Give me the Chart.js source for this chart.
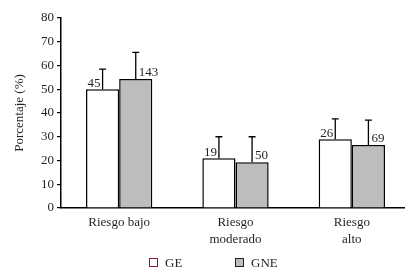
<!DOCTYPE html>
<html>
<head>
<meta charset="utf-8">
<script src="https://cdn.jsdelivr.net/npm/chart.js@4"></script>
<style>
  html, body { margin: 0; padding: 0; background: #fff; overflow: hidden; width: 405px; height: 280px; }
  #wrap { position: absolute; left: 0; top: 0; width: 410px; height: 280px; }
  .leg { position: absolute; top: 255px; font: 13px 'Liberation Serif', 'DejaVu Serif', serif; color: #231f20; line-height: 15px; }
  .leg i { display: inline-block; width: 7px; height: 7px; margin-right: 7px; vertical-align: 0px; }
</style>
</head>
<body>
<div id="wrap"><canvas id="chart"></canvas></div>
<div class="leg" style="left:149px"><i style="border:1.2px solid #8b1a4a;background:#fff"></i>GE</div>
<div class="leg" style="left:235px"><i style="border:1.2px solid #222;background:#bdbdbd"></i>GNE</div>
<script>
// categories and series
var categories = [['Riesgo bajo'], ['Riesgo', 'moderado'], ['Riesgo', 'alto']];
var geValues = [50, 21, 29];
var gneValues = [54.3, 19.3, 26.5];
// top of the error bars (mean + sd)
var geErrTop = [58.5, 30, 37.5];
var gneErrTop = [65.5, 30, 37];
// n shown above each bar
var geCounts = [45, 19, 26];
var gneCounts = [143, 50, 69];
var yTicks = [0, 10, 20, 30, 40, 50, 60, 70, 80];

var ink = '#231f20';
var serif = "'Liberation Serif', 'DejaVu Serif', serif";

//draw error bars and the n labels next to them
var errorBars = {
  id: 'errorBars',
  afterDatasetsDraw: function(chart) {
    var ctx = chart.ctx;
    var y = chart.scales.y;
    ctx.save();
    chart.data.datasets.forEach(function(ds, i) {
      var meta = chart.getDatasetMeta(i);
      meta.data.forEach(function(bar, j) {
        var top = y.getPixelForValue(ds.errTop[j]);
        ctx.strokeStyle = '#000';
        ctx.lineWidth = 1.3;
        ctx.beginPath();
        ctx.moveTo(bar.x, bar.y);
        ctx.lineTo(bar.x, top);
        ctx.moveTo(bar.x - 3.5, top);
        ctx.lineTo(bar.x + 3.5, top);
        ctx.stroke();

        ctx.fillStyle = ink;
        ctx.font = '13px ' + serif;
        ctx.textBaseline = 'alphabetic';
        if (i == 0) {
          ctx.textAlign = 'right';
          ctx.fillText(ds.counts[j], bar.x - 2, bar.y - 2);
        } else {
          ctx.textAlign = 'left';
          ctx.fillText(ds.counts[j], bar.x + 3, bar.y - 3);
        }
      });
    });
    ctx.restore();
  }
};

new Chart(document.getElementById('chart'), {
  type: 'bar',
  data: {
    labels: categories,
    datasets: [
      {
        label: 'GE',
        data: geValues,
        errTop: geErrTop,
        counts: geCounts,
        backgroundColor: '#ffffff',
        borderColor: '#000',
        borderWidth: 1.5,
        borderSkipped: 'bottom'
      },
      {
        label: 'GNE',
        data: gneValues,
        errTop: gneErrTop,
        counts: gneCounts,
        backgroundColor: '#bdbdbd',
        borderColor: '#000',
        borderWidth: 1.5,
        borderSkipped: 'bottom'
      }
    ]
  },
  options: {
    responsive: true,
    maintainAspectRatio: false,
    animation: false,
    categoryPercentage: 0.57,
    barPercentage: 1,
    layout: { padding: { left: 8, right: 0, top: 18, bottom: 0 } },
    plugins: {
      tooltip: { enabled: false },
      legend: { display: false }
    },
    scales: {
      x: {
        grid: { display: false, drawTicks: false, tickLength: 0 },
        border: { display: true, color: '#000', width: 1.5 },
        ticks: { color: ink, font: { family: serif, size: 13, lineHeight: 1.3 }, padding: 6, maxRotation: 0 },
        afterFit: function(scale) { scale.height = 72; }
      },
      y: {
        min: 0,
        max: 80,
        afterBuildTicks: function(scale) {
          scale.ticks = yTicks.map(function(v) { return { value: v }; });
        },
        grid: { display: true, drawOnChartArea: false, drawTicks: true, tickLength: 4, color: '#000', lineWidth: 1.2 },
        border: { display: true, color: '#000', width: 1.5 },
        ticks: { color: ink, font: { family: serif, size: 13 }, padding: 3 },
        title: { display: true, text: 'Porcentaje (%)', color: ink, font: { family: serif, size: 13 }, padding: { top: 4, bottom: 4 } },
        afterFit: function(scale) { scale.width = 53; }
      }
    }
  },
  plugins: [errorBars]
});
</script>
</body>
</html>
